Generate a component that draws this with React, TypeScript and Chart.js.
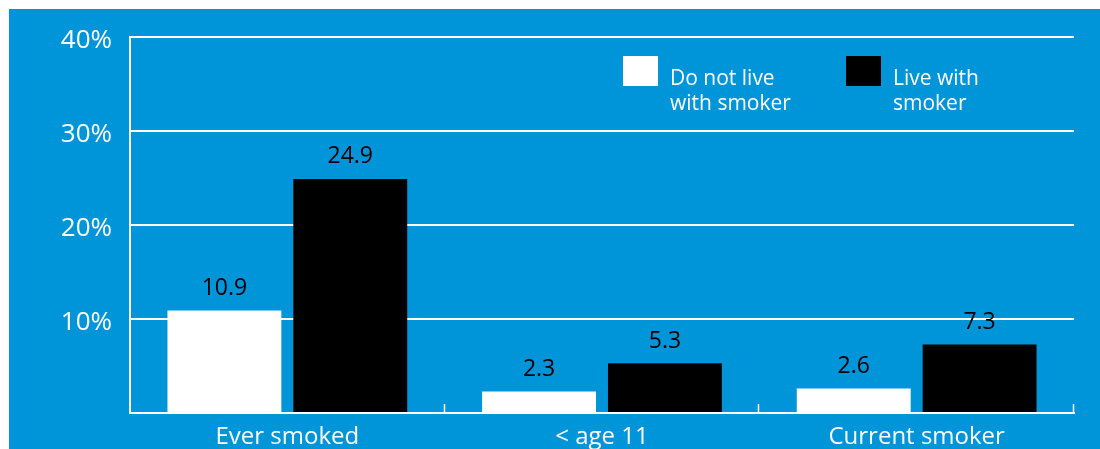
import React, { useEffect, useRef } from "react";
import { Chart, registerables } from "chart.js";

Chart.register(...registerables);

const categories = ["Ever smoked", "< age 11", "Current smoker"];
const doNotLive = [10.9, 2.3, 2.6];
const liveWith = [24.9, 5.3, 7.3];
const seriesNames = ["Do not live with smoker", "Live with smoker"];
const legendLines = [["Do not live", "with smoker"], ["Live with", "smoker"]];
const yTickLabels = ["", "10%", "20%", "30%", "40%"];

const BLUE = "#0094d9";
const FONT = "'Open Sans', 'Noto Sans', sans-serif";

const overlayPlugin = {
  id: "overlay",
  afterDatasetsDraw(chart: any) {
    const ctx = chart.ctx;
    const area = chart.chartArea;
    ctx.save();
    // category boundary ticks (upward)
    ctx.strokeStyle = "#ffffff";
    ctx.lineWidth = 1.5;
    const n = categories.length;
    for (let i = 1; i <= n; i++) {
      const x = Math.round(area.left + (i * (area.right - area.left)) / n) - 0.5;
      ctx.beginPath();
      ctx.moveTo(x, area.bottom - 9);
      ctx.lineTo(x, area.bottom);
      ctx.stroke();
    }
    // data labels
    ctx.fillStyle = "#000000";
    ctx.font = `23px ${FONT}`;
    ctx.textAlign = "center";
    ctx.textBaseline = "middle";
    chart.data.datasets.forEach((ds: any, di: number) => {
      const meta = chart.getDatasetMeta(di);
      meta.data.forEach((el: any, i: number) => {
        const v = ds.data[i];
        ctx.fillText(v.toFixed(1), el.x, el.y - 22);
      });
    });
    // legend
    const colors = ["#ffffff", "#000000"];
    const startX = area.left + 493;
    const step = 223;
    ctx.textAlign = "left";
    ctx.textBaseline = "alphabetic";
    ctx.font = `21px ${FONT}`;
    legendLines.forEach((lines, i) => {
      const bx = startX + i * step;
      const by = area.top + 19;
      ctx.fillStyle = colors[i];
      ctx.fillRect(bx, by, 35, 30);
      ctx.fillStyle = "#ffffff";
      lines.forEach((line, li) => {
        ctx.fillText(line, bx + 47, area.top + 48 + li * 25);
      });
    });
    ctx.restore();
  },
};

export default function App() {
  const ref = useRef<HTMLCanvasElement>(null);
  useEffect(() => {
    if (!ref.current) return;
    const chart = new Chart(ref.current, {
      type: "bar",
      data: {
        labels: categories,
        datasets: [
          {
            label: seriesNames[0],
            data: doNotLive,
            backgroundColor: "#ffffff",
            categoryPercentage: 0.8,
            barPercentage: 0.905,
          },
          {
            label: seriesNames[1],
            data: liveWith,
            backgroundColor: "#000000",
            categoryPercentage: 0.8,
            barPercentage: 0.905,
          },
        ],
      },
      options: {
        animation: false,
        responsive: true,
        maintainAspectRatio: false,
        layout: { padding: { left: 0, right: 26, top: 28, bottom: 0 } },
        plugins: {
          legend: { display: false },
          tooltip: { enabled: false },
        },
        scales: {
          x: {
            grid: { display: false, drawTicks: false },
            border: { display: true, color: "#ffffff", width: 2 },
            ticks: {
              color: "#ffffff",
              font: { family: FONT, size: 24 },
              padding: 10,
            },
            afterFit(scale: any) {
              scale.height = 36;
              scale.paddingLeft = 0;
              scale.paddingRight = 0;
            },
          },
          y: {
            min: 0,
            max: 40,
            ticks: {
              stepSize: 10,
              color: "#ffffff",
              font: { family: FONT, size: 26 },
              padding: 18,
              labelOffset: 4,
              callback: (_v: any, i: number) => yTickLabels[i],
            },
            grid: { color: "#ffffff", lineWidth: 2, drawTicks: false },
            border: { display: true, color: "#ffffff", width: 2 },
            afterFit(scale: any) {
              scale.width = 121;
              scale.paddingTop = 0;
              scale.paddingBottom = 0;
            },
          },
        },
      },
      plugins: [overlayPlugin],
    });
    return () => chart.destroy();
  }, []);
  return (
    <div
      style={{
        position: "absolute",
        left: 9,
        top: 9,
        width: 1091,
        height: 440,
        background: BLUE,
      }}
    >
      <canvas ref={ref} />
    </div>
  );
}
